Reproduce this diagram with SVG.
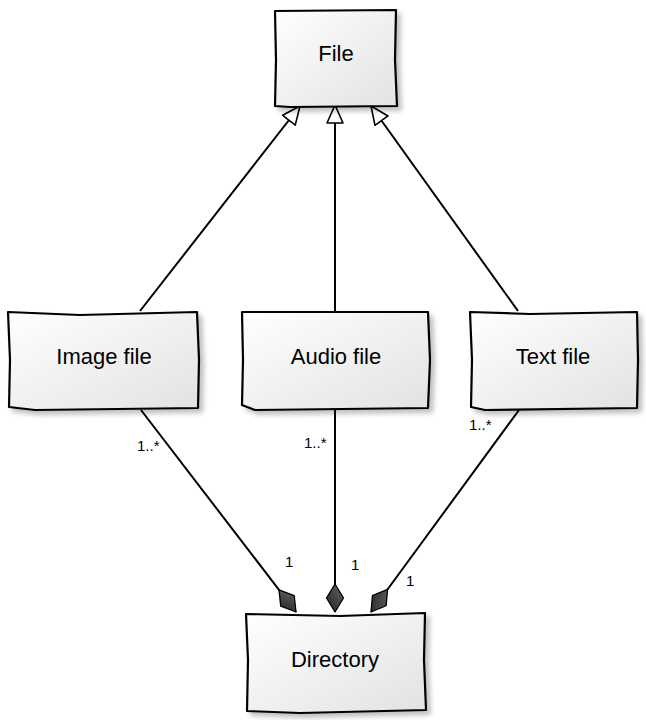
<svg xmlns="http://www.w3.org/2000/svg" width="646" height="720" viewBox="0 0 646 720">
<defs>
<linearGradient id="g" x1="0" y1="0" x2="1" y2="1">
<stop offset="0" stop-color="#ffffff"/>
<stop offset="1" stop-color="#e2e2e2"/>
</linearGradient>
<linearGradient id="dg" x1="0" y1="0" x2="1" y2="1">
<stop offset="0" stop-color="#666"/>
<stop offset="1" stop-color="#222"/>
</linearGradient>
<filter id="sh" x="-10%" y="-10%" width="130%" height="130%">
<feGaussianBlur in="SourceAlpha" stdDeviation="2.5"/>
<feOffset dx="4" dy="4" result="b"/>
<feComponentTransfer><feFuncA type="linear" slope="0.25"/></feComponentTransfer>
<feMerge><feMergeNode/><feMergeNode in="SourceGraphic"/></feMerge>
</filter>
<marker id="tri" viewBox="0 0 20 20" refX="19" refY="10" markerWidth="20" markerHeight="20" markerUnits="userSpaceOnUse" orient="auto">
<path d="M1,2 L19,10 L1,18 Z" fill="#fff" stroke="#000" stroke-width="1.6" stroke-linejoin="round"/>
</marker>
<marker id="dia" viewBox="0 0 30 20" refX="29" refY="10" markerWidth="30" markerHeight="20" markerUnits="userSpaceOnUse" orient="auto">
<path d="M1,10 L15,1.5 L29,10 L15,18.5 Z" fill="url(#dg)" stroke="#000" stroke-width="1.3" stroke-linejoin="round"/>
</marker>
</defs>
<style>
.box{fill:url(#g);stroke:#000;stroke-width:2.2;stroke-linejoin:round;filter:url(#sh)}
.lbl{font-family:"Liberation Sans","DejaVu Sans",sans-serif;font-size:22px;fill:#000;text-anchor:middle}
.m{font-family:"Liberation Sans","DejaVu Sans",sans-serif;font-size:15px;fill:#000}
.ln{stroke:#000;stroke-width:2;fill:none}
</style>
<g id="connectors">
<line class="ln" x1="140" y1="311" x2="300" y2="106" marker-end="url(#tri)"/>
<line class="ln" x1="335" y1="311" x2="335" y2="105" marker-end="url(#tri)"/>
<line class="ln" x1="518" y1="311" x2="371" y2="106" marker-end="url(#tri)"/>
<line class="ln" x1="141" y1="410" x2="296" y2="612" marker-end="url(#dia)"/>
<line class="ln" x1="335" y1="410" x2="335" y2="612" marker-end="url(#dia)"/>
<line class="ln" x1="519" y1="410" x2="371" y2="612" marker-end="url(#dia)"/>
<text class="m" x="137" y="451">1..*</text>
<text class="m" x="304" y="448">1..*</text>
<text class="m" x="469" y="430">1..*</text>
<text class="m" x="285" y="567">1</text>
<text class="m" x="351" y="570">1</text>
<text class="m" x="406" y="586">1</text>
</g>
<g id="file">
<path class="box" d="M275,11 L396,10 L395,60 L397,106 L290,107 L275,106 L276,60 Z"/>
<text class="lbl" x="336" y="61">File</text>
</g>
<g id="image-file">
<path class="box" d="M8,312 L80,315 L197,312 L199,360 L198,408 L35,410 L9,407 L10,360 Z"/>
<text class="lbl" x="104" y="364">Image file</text>
</g>
<g id="audio-file">
<path class="box" d="M242,312 L428,312 L430,360 L428,408 L255,410 L242,405 L243,360 Z"/>
<text class="lbl" x="336" y="364">Audio file</text>
</g>
<g id="text-file">
<path class="box" d="M470,312 L530,314 L637,312 L638,360 L637,408 L485,410 L471,407 L472,360 Z"/>
<text class="lbl" x="553" y="364">Text file</text>
</g>
<g id="directory">
<path class="box" d="M246,614 L340,616 L425,613 L424,660 L426,710 L300,713 L247,711 L248,660 Z"/>
<text class="lbl" x="335" y="667">Directory</text>
</g>
</svg>
